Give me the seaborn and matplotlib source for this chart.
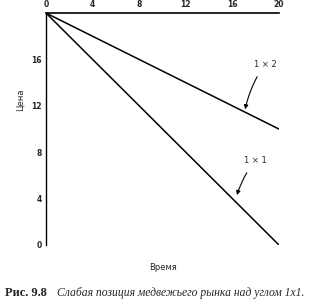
import matplotlib
matplotlib.use("Agg")
import matplotlib.pyplot as plt
import seaborn as sns
import pandas as pd

time_vals = [0, 20]
line_1x1 = [20, 0]
line_1x2 = [20, 10]
x_ticks = [0, 4, 8, 12, 16, 20]
y_ticks = [0, 4, 8, 12, 16]

sns.set_style("white")
plt.rcParams['font.family'] = ['DejaVu Sans']

fig = plt.figure(figsize=(3.18, 3.05), dpi=100)
ax = fig.add_axes([0.145, 0.197, 0.732, 0.760])

df = pd.DataFrame({"t": time_vals * 2,
                   "p": line_1x1 + line_1x2,
                   "s": ["1x1"] * 2 + ["1x2"] * 2})
sns.lineplot(data=df, x="t", y="p", units="s", estimator=None,
             color="black", lw=1.1, ax=ax, legend=False)

ax.set_xlim(0, 20)
ax.set_ylim(0, 20)
ax.xaxis.tick_top()
ax.set_xticks(x_ticks)
ax.set_yticks(y_ticks)
ax.tick_params(axis='both', labelsize=5.5, length=0, pad=3)
for lab in ax.get_xticklabels() + ax.get_yticklabels():
    lab.set_fontweight('bold')
for s in ['bottom', 'right']:
    ax.spines[s].set_visible(False)
ax.spines['top'].set_linewidth(1.2)
ax.spines['left'].set_linewidth(1.0)
ax.spines['top'].set_color('black')
ax.spines['left'].set_color('black')
ax.set_xlabel("")
ax.set_ylabel("")

ax.annotate("1 × 2", xy=(17.1, 11.7), xytext=(18.8, 15.6), fontsize=6,
            ha='center', va='center',
            arrowprops=dict(arrowstyle='-|>', color='black', lw=0.8,
                            mutation_scale=6, connectionstyle='arc3,rad=0.1',
                            shrinkA=4, shrinkB=0))
ax.annotate("1 × 1", xy=(16.4, 4.3), xytext=(18.0, 7.3), fontsize=6,
            ha='center', va='center',
            arrowprops=dict(arrowstyle='-|>', color='black', lw=0.8,
                            mutation_scale=6, connectionstyle='arc3,rad=0.1',
                            shrinkA=4, shrinkB=0))

fig.text(163 / 318, 1 - 268 / 305, "Время", fontsize=6, ha='center', va='center')
fig.text(20 / 318, 1 - 100 / 305, "Цена", fontsize=6, ha='center', va='center',
         rotation=90)

fig.text(5 / 318, 1 - 293 / 305, "Рис. 9.8", fontsize=9, fontweight='bold',
         family='Liberation Serif', ha='left', va='center')
fig.text(57 / 318, 1 - 293 / 305, "Слабая позиция медвежьего рынка над углом 1x1.",
         fontsize=8.4, style='italic', family='Liberation Serif',
         ha='left', va='center')

fig.savefig("out.png", dpi=100)
